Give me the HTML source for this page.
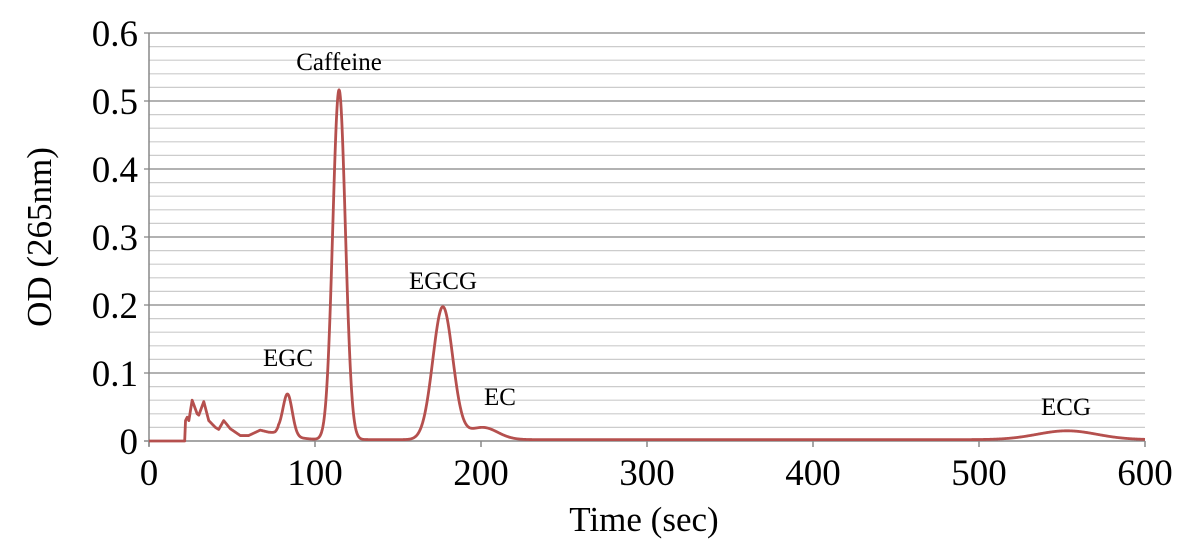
<!DOCTYPE html>
<html><head><style>
html,body{margin:0;padding:0;background:#fff;}
svg{display:block;}
</style></head><body>
<svg id="s" width="1200" height="553" viewBox="0 0 1200 553" xmlns="http://www.w3.org/2000/svg" font-family="'Liberation Serif', serif">
<g id="grid"></g>
<line x1="149" y1="33" x2="149" y2="446" stroke="#888" stroke-width="1.5"/>
<line x1="144" y1="441" x2="1145" y2="441" stroke="#888" stroke-width="1.5"/>
<g font-size="37" text-anchor="end" font-family="'Liberation Serif', serif">
<text x="138" y="46">0.6</text><text x="138" y="114">0.5</text><text x="138" y="182">0.4</text>
<text x="138" y="250">0.3</text><text x="138" y="318">0.2</text><text x="138" y="386">0.1</text>
<text x="138" y="454">0</text>
</g>
<g font-size="37" text-anchor="middle" font-family="'Liberation Serif', serif">
<text x="149" y="485">0</text><text x="315" y="485">100</text><text x="481" y="485">200</text>
<text x="647" y="485">300</text><text x="813" y="485">400</text><text x="979" y="485">500</text>
<text x="1145" y="485">600</text>
</g>
<text x="644" y="531" font-size="35" text-anchor="middle" font-family="'Liberation Serif', serif">Time (sec)</text>
<text transform="translate(51,237) rotate(-90)" font-size="35" text-anchor="middle" font-family="'Liberation Serif', serif">OD (265nm)</text>
<g font-size="25" text-anchor="middle" font-family="'Liberation Serif', serif">
<text x="339" y="70">Caffeine</text>
<text x="443" y="289">EGCG</text>
<text x="288" y="366">EGC</text>
<text x="500" y="405">EC</text>
<text x="1066" y="415">ECG</text>
</g>
<path id="curve" fill="none" stroke="#b5504e" stroke-width="2.8" stroke-linejoin="round"/>
</svg>
<script>
var g=document.getElementById('grid'),h='';
for(var i=1;i<=30;i++){var y=441-i*13.6;
 var maj=i%5==0;
 h+='<line x1="'+(maj?144:149)+'" y1="'+y+'" x2="1145" y2="'+y+'" stroke="'+(maj?'#999':'#ccc')+'" stroke-width="'+(maj?1.5:1.2)+'"/>';}
for(var k=0;k<=6;k++){var x=149+k*166;h+='<line x1="'+x+'" y1="441" x2="'+x+'" y2="447" stroke="#888" stroke-width="1.5"/>';}
g.innerHTML=h;
var bp=[[0,0],[21.5,0],[22,0.03],[23,0.035],[24,0.03],[26,0.06],[29,0.04],[30,0.038],[33,0.058],[36,0.03],[40,0.02],[42,0.017],[45,0.03],[49,0.018],[55,0.008],[60,0.008],[67,0.016],[72,0.013],[76,0.012],[78,0.014]];
function base(t){ if(t>=78){ var v=0.014*Math.exp(-(t-78)/10); return v+0.001;}
 for(var i=0;i<bp.length-1;i++){if(t>=bp[i][0]&&t<=bp[i+1][0]){var a=bp[i],b=bp[i+1];return a[1]+(b[1]-a[1])*(t-a[0])/(b[0]-a[0]);}} return 0;}
function G(t,m,a,s){return a*Math.exp(-(t-m)*(t-m)/(2*s*s));}
function f(t){var v=base(t);
 v+=G(t,83.5,0.06,2.8);
 v+=G(t,114.5,0.515,3.8);
 v+=G(t,177,0.195,6);
 v+=G(t,201,0.018,9);
 v+=G(t,553,0.013,18);
 if(t>120) v+=0.001;
 return v;}
var d='';
for(var t=0;t<=600;t+=0.25){var x=149+t*166/100,y=441-f(t)*680;d+=(t==0?'M':'L')+x.toFixed(2)+' '+y.toFixed(2);}
document.getElementById('curve').setAttribute('d',d);
</script>
</body></html>
